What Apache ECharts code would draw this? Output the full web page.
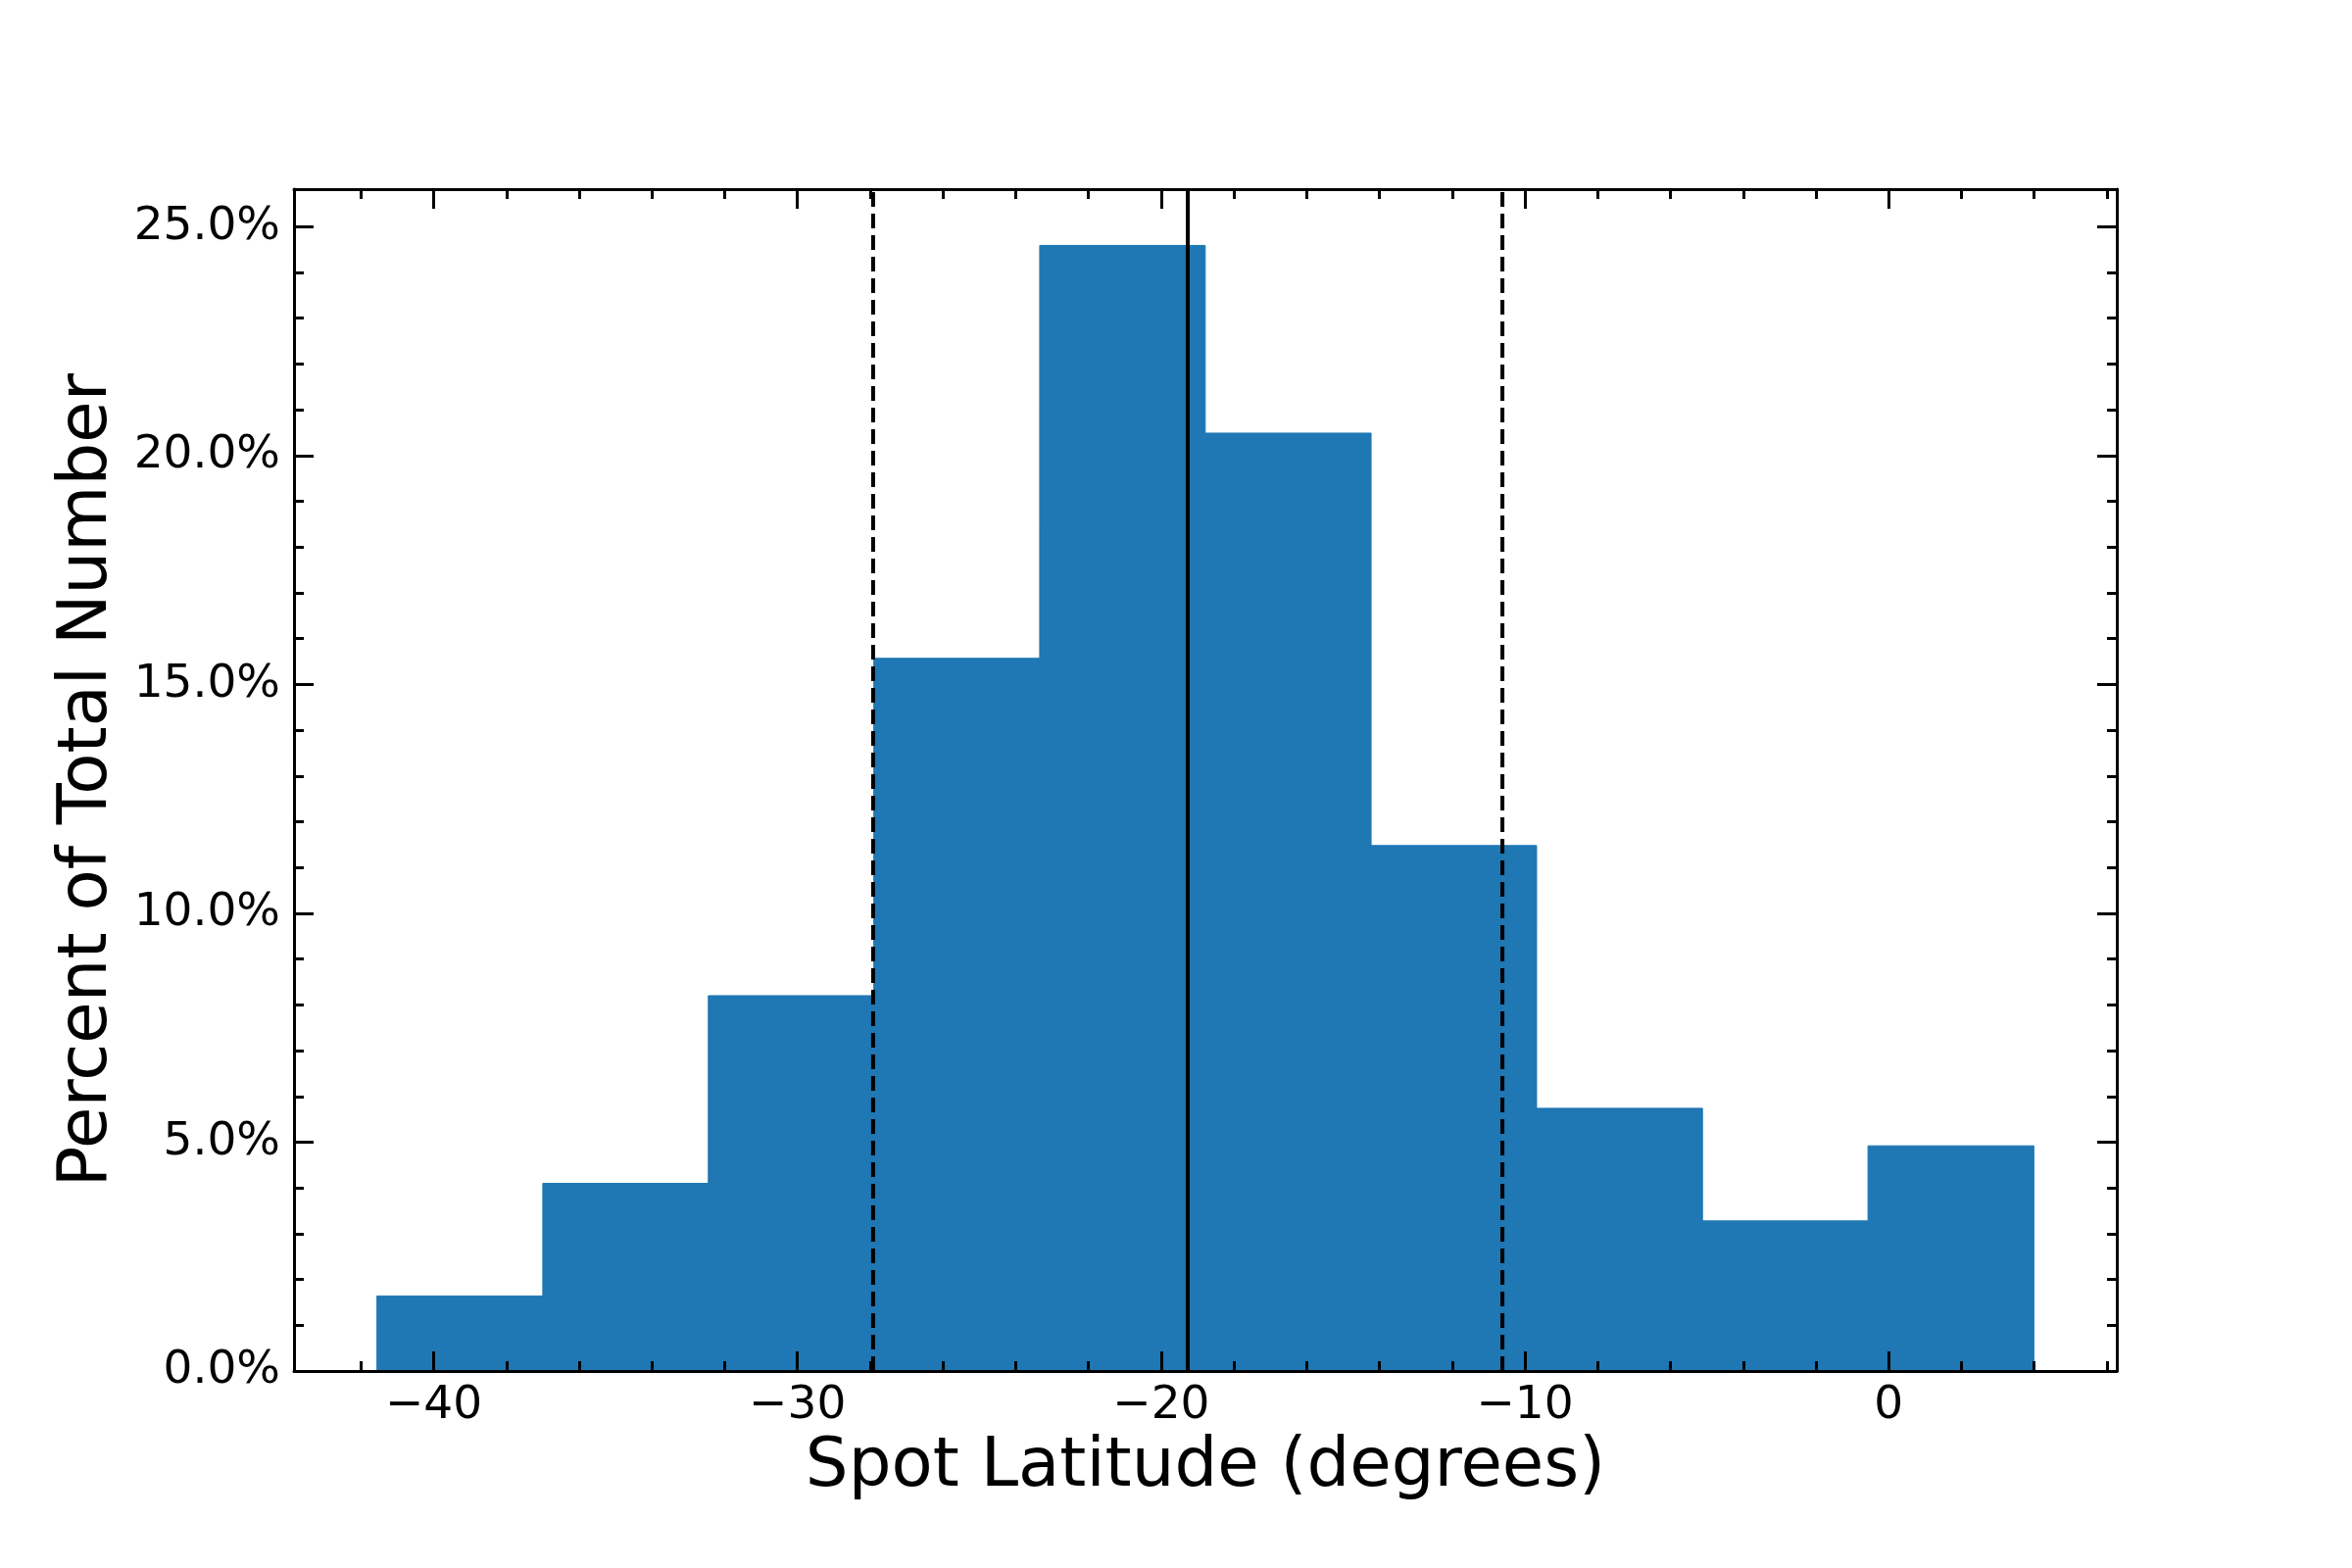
<!DOCTYPE html>
<html>
<head>
<meta charset="utf-8">
<script src="https://cdn.jsdelivr.net/npm/echarts@6/dist/echarts.min.js"></script>
<style>
  html, body { margin: 0; padding: 0; background: #fff; }
  #spotHist { width: 2400px; height: 1600px; }
</style>
</head>
<body>
<div id="spotHist"></div>
<script>
// histogram bins (degrees) and percent of total in each bin
const binEdges = [-41.56, -37.0, -32.45, -27.9, -23.34, -18.79, -14.23, -9.68, -5.12, -0.57, 3.99];
const binPercent = [1.64, 4.10, 8.20, 15.57, 24.59, 20.49, 11.48, 5.74, 3.28, 4.92];

// mean and mean +/- 1 sigma
const meanLat = -19.27;
const sigmaLines = [-27.92, -10.62];

// tick values
const xMajorTicks = [-40, -30, -20, -10, 0];
const xMinorTicks = [-42, -38, -36, -34, -32, -28, -26, -24, -22, -18, -16, -14, -12, -8, -6, -4, -2, 2, 4, 6];
const yMajorTicks = [0, 5, 10, 15, 20, 25];
const yMinorTicks = [1, 2, 3, 4, 6, 7, 8, 9, 11, 12, 13, 14, 16, 17, 18, 19, 21, 22, 23, 24];

const X_MIN = -43.84;
const X_MAX = 6.27;
const Y_MIN = 0;
const Y_MAX = 25.82;

const FONT = "DejaVu Sans";
const chart = echarts.init(document.getElementById("spotHist"));

const histData = binPercent.map((p, i) => [binEdges[i], binEdges[i + 1], p]);

// one axis per side for major ticks, another one for the minor ticks
const makeX = (position, ticks, len, main) => ({
  type: "value",
  position: position,
  min: X_MIN,
  max: X_MAX,
  z: 10,
  splitLine: { show: false },
  axisLine: { show: main, onZero: false, lineStyle: { color: "#000", width: 3 } },
  axisTick: {
    show: true,
    inside: true,
    length: len,
    customValues: ticks,
    lineStyle: { color: "#000", width: 3 },
  },
  axisLabel: main && position === "bottom"
    ? {
        show: true,
        customValues: xMajorTicks,
        margin: 12,
        color: "#000",
        fontFamily: FONT,
        fontSize: 47,
        formatter: (v) => String(v).replace("-", "\u2212"),
      }
    : { show: false },
});

const makeY = (position, ticks, len, main) => ({
  type: "value",
  position: position,
  min: Y_MIN,
  max: Y_MAX,
  z: 10,
  splitLine: { show: false },
  axisLine: { show: main, onZero: false, lineStyle: { color: "#000", width: 3 } },
  axisTick: {
    show: true,
    inside: true,
    length: len,
    customValues: ticks,
    lineStyle: { color: "#000", width: 3 },
  },
  axisLabel: main && position === "left"
    ? {
        show: true,
        customValues: yMajorTicks,
        margin: 14,
        color: "#000",
        fontFamily: FONT,
        fontSize: 47,
        formatter: (v) => v.toFixed(1) + "%",
      }
    : { show: false },
});

const xAxes = [
  makeX("bottom", xMajorTicks, 20, true),
  makeX("bottom", xMinorTicks, 10, false),
  makeX("top", xMajorTicks, 20, true),
  makeX("top", xMinorTicks, 10, false),
];
xAxes[0].name = "Spot Latitude (degrees)";
xAxes[0].nameLocation = "middle";
xAxes[0].nameGap = 65;
xAxes[0].nameTextStyle = { fontFamily: FONT, fontSize: 69, color: "#000" };

const yAxes = [
  makeY("left", yMajorTicks, 20, true),
  makeY("left", yMinorTicks, 10, false),
  makeY("right", yMajorTicks, 20, true),
  makeY("right", yMinorTicks, 10, false),
];
yAxes[0].name = "Percent of Total Number";
yAxes[0].nameLocation = "middle";
yAxes[0].nameGap = 175;
yAxes[0].nameTextStyle = { fontFamily: FONT, fontSize: 69, color: "#000" };

const vline = (x, dashed) => ({
  type: "line",
  xAxisIndex: 0,
  yAxisIndex: 0,
  data: [[x, Y_MIN], [x, Y_MAX]],
  symbol: "none",
  silent: true,
  z: 5,
  lineStyle: { color: "#000", width: 4, type: dashed ? [15, 7] : "solid" },
  animation: false,
});

const option = {
  backgroundColor: "#fff",
  animation: false,
  grid: { left: 300, right: 240, top: 193, bottom: 201, containLabel: false },
  xAxis: xAxes,
  yAxis: yAxes,
  series: [
    {
      type: "custom",
      xAxisIndex: 0,
      yAxisIndex: 0,
      data: histData,
      encode: { x: [0, 1], y: 2 },
      z: 2,
      renderItem: (params, api) => {
        const topLeft = api.coord([api.value(0), api.value(2)]);
        const bottomRight = api.coord([api.value(1), 0]);
        return {
          type: "rect",
          shape: {
            x: topLeft[0],
            y: topLeft[1],
            width: bottomRight[0] - topLeft[0],
            height: bottomRight[1] - topLeft[1],
          },
          // thin stroke in the same colour hides the seams between bins
          style: { fill: "#1f77b4", stroke: "#1f77b4", lineWidth: 1 },
        };
      },
    },
    vline(meanLat, false),
    vline(sigmaLines[0], true),
    vline(sigmaLines[1], true),
  ],
};

chart.setOption(option);
</script>
</body>
</html>
